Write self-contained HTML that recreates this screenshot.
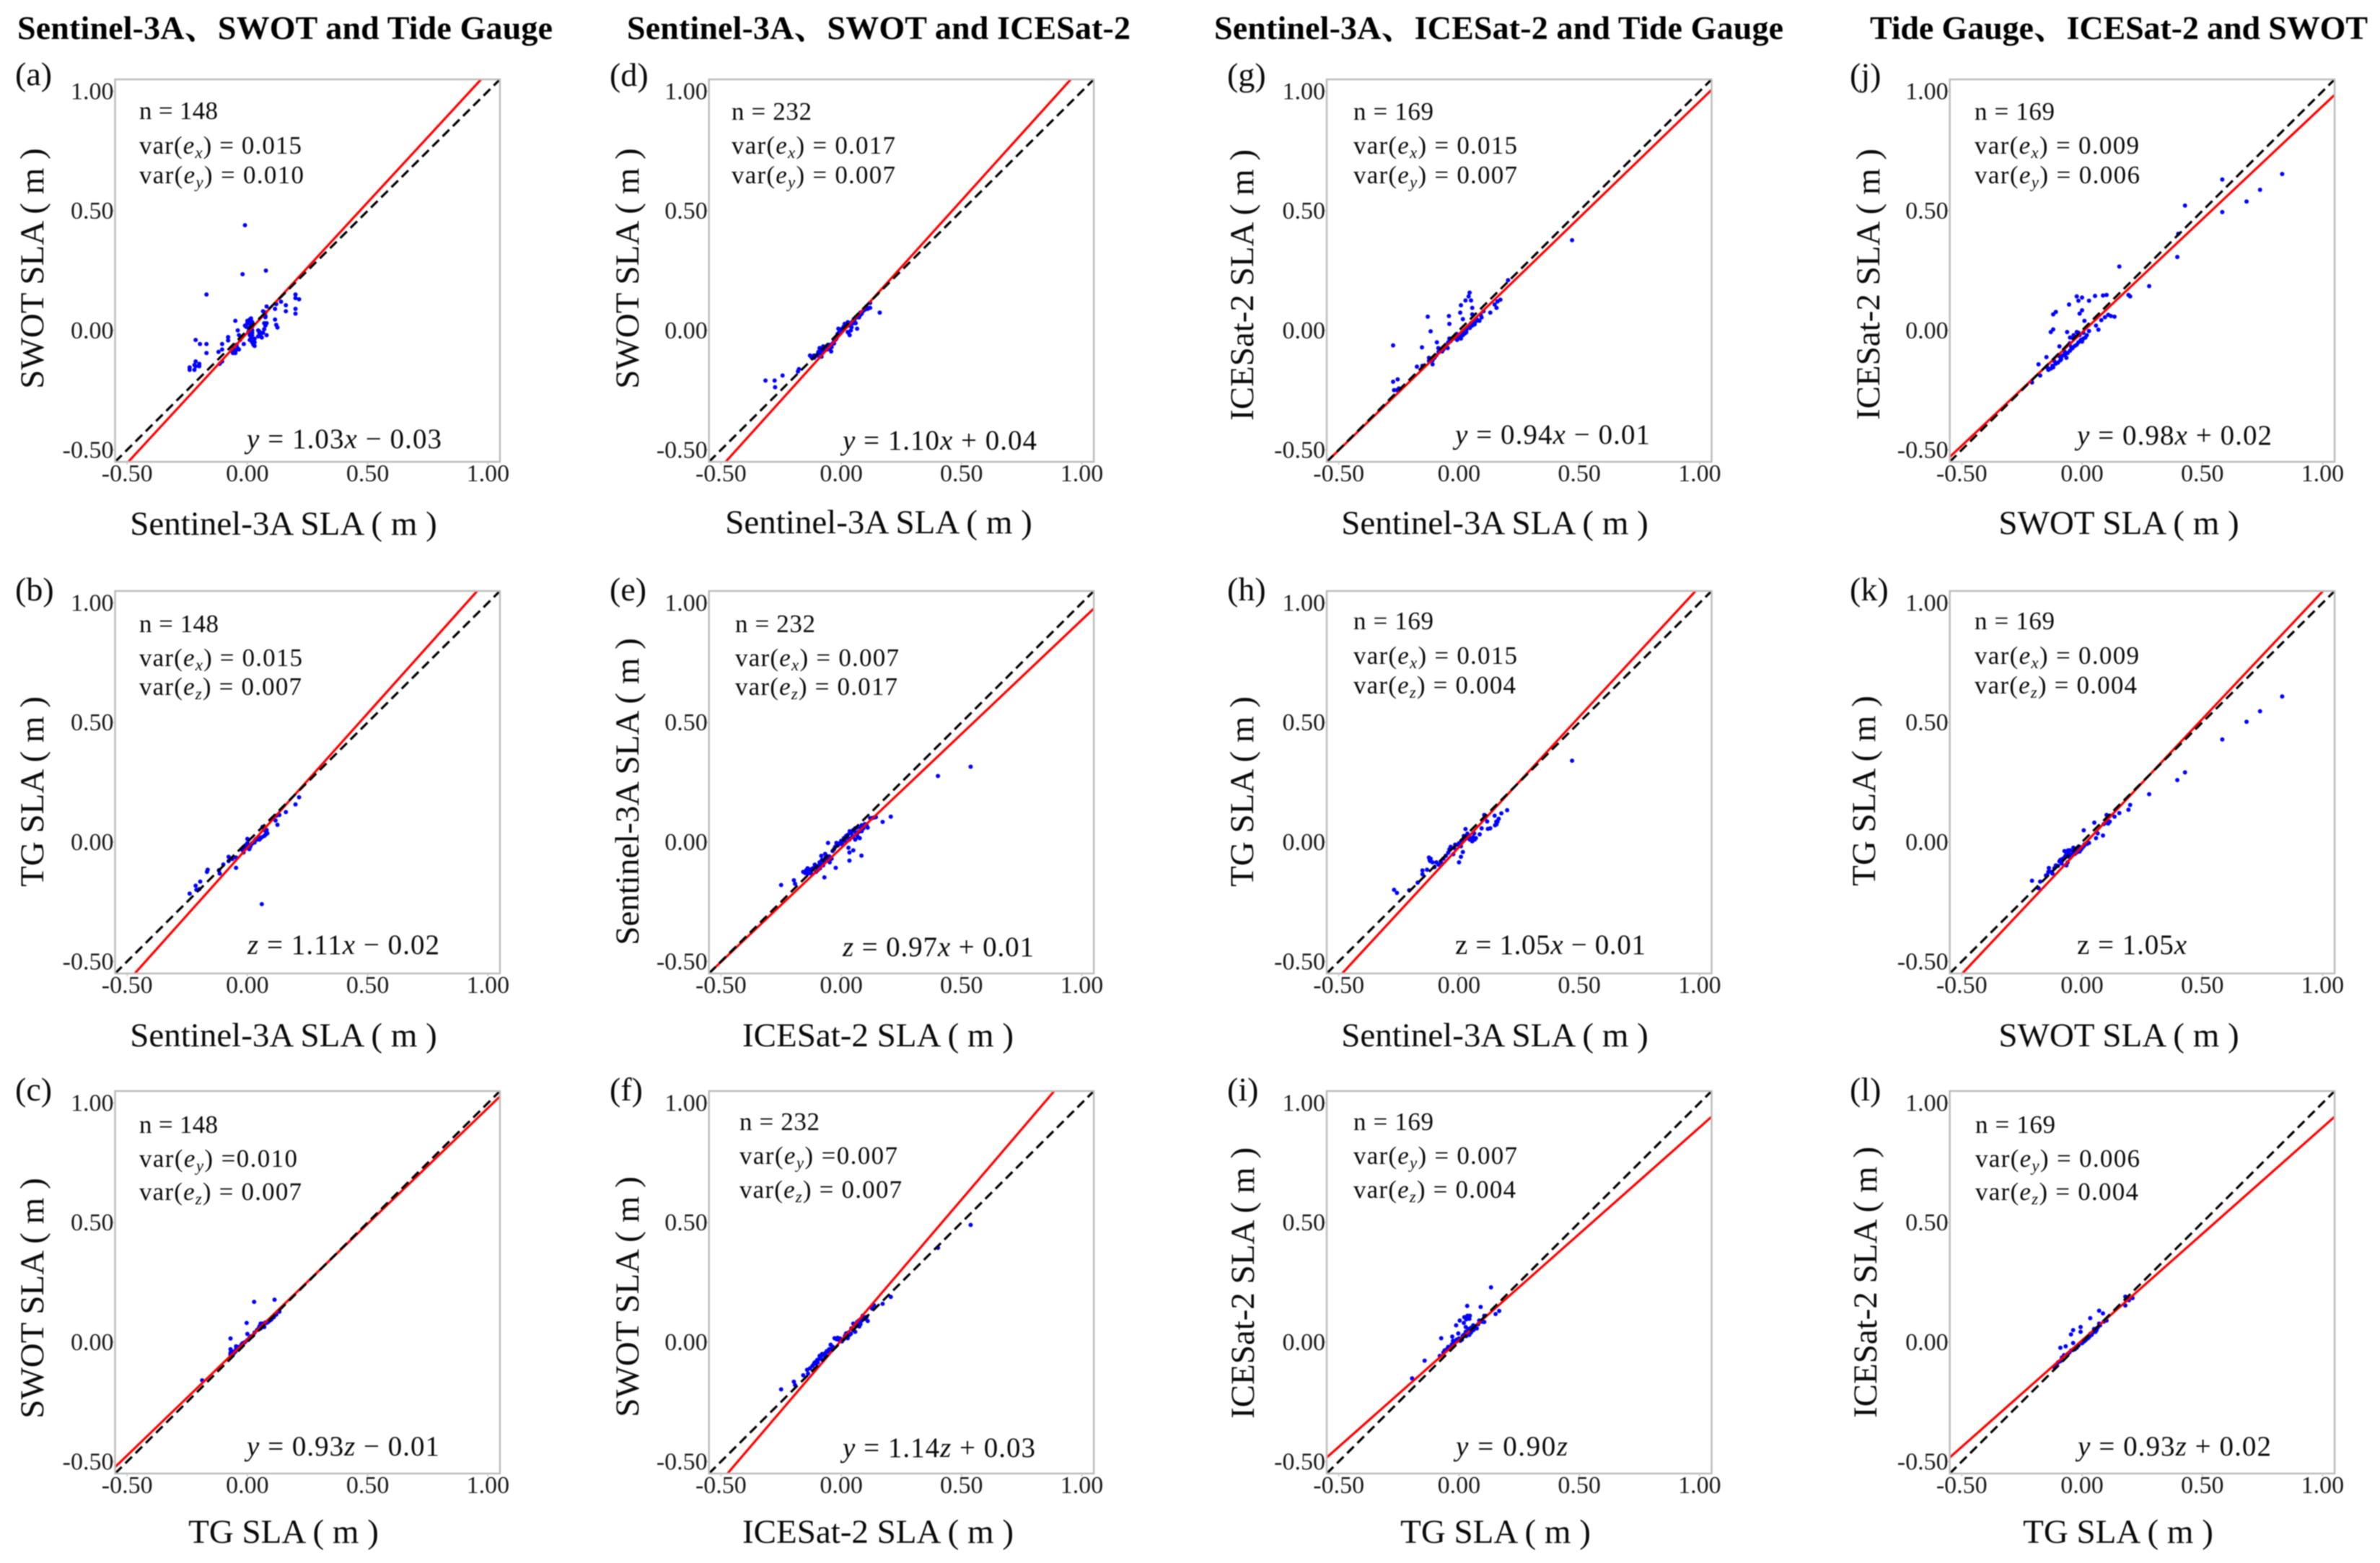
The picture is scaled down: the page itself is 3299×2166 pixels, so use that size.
<!DOCTYPE html>
<html lang="en">
<head>
<meta charset="utf-8">
<title>SLA triple collocation scatter plots</title>
<style>
html,body{margin:0;padding:0;background:#fff;width:3299px;height:2166px;overflow:hidden}
svg{display:block;filter:blur(0.8px)}
text{font-family:"Liberation Serif","Noto Serif CJK SC",serif;fill:#0a0a0a}
.title{font-size:46px;font-weight:bold;fill:#000}
.letter{font-size:46px}
.axis{font-size:47px;text-anchor:middle}
.ann{font-size:35px}
.eq{font-size:39px}
.tick{font-size:34px;fill:#1a1a1a}
tspan.i{font-style:italic}
tspan.s{font-style:italic;font-size:23px}
</style>
</head>
<body>
<svg id="figure" xmlns="http://www.w3.org/2000/svg" width="3299" height="2166" viewBox="0 0 3299 2166">
<rect x="0" y="0" width="3299" height="2166" fill="#fff"/>
<g id="marks"></g>

<g>
<text class="title" x="24" y="54" textLength="742">Sentinel-3A、SWOT and Tide Gauge</text>
<text class="title" x="869" y="54" textLength="698">Sentinel-3A、SWOT and ICESat-2</text>
<text class="title" x="1683" y="54" textLength="789">Sentinel-3A、ICESat-2 and Tide Gauge</text>
<text class="title" x="2592" y="54" textLength="690">Tide Gauge、ICESat-2 and SWOT</text>
</g>

<g>
<text class="letter" x="21" y="118">(a)</text>
<text class="ann" x="193" y="165" textLength="109">n = 148</text>
<text class="ann" x="193" y="213" textLength="225">var(<tspan class="i">e</tspan><tspan class="s" dy="6">x</tspan><tspan dy="-6">) = 0.015</tspan></text>
<text class="ann" x="193" y="254" textLength="228">var(<tspan class="i">e</tspan><tspan class="s" dy="6">y</tspan><tspan dy="-6">) = 0.010</tspan></text>
<text class="eq" x="342" y="621" textLength="270"><tspan class="i">y</tspan> = 1.03<tspan class="i">x</tspan> − 0.03</text>
<text class="axis" x="393" y="741">Sentinel-3A SLA ( m )</text>
<text class="axis" transform="translate(60 372) rotate(-90)">SWOT SLA ( m )</text>
</g>

<g>
<text class="letter" x="21" y="832">(b)</text>
<text class="ann" x="193" y="876" textLength="110">n = 148</text>
<text class="ann" x="193" y="923" textLength="226">var(<tspan class="i">e</tspan><tspan class="s" dy="6">x</tspan><tspan dy="-6">) = 0.015</tspan></text>
<text class="ann" x="193" y="963" textLength="225">var(<tspan class="i">e</tspan><tspan class="s" dy="6">z</tspan><tspan dy="-6">) = 0.007</tspan></text>
<text class="eq" x="343" y="1322" textLength="266"><tspan class="i">z</tspan> = 1.11<tspan class="i">x</tspan> − 0.02</text>
<text class="axis" x="393" y="1450">Sentinel-3A SLA ( m )</text>
<text class="axis" transform="translate(60 1097) rotate(-90)">TG SLA ( m )</text>
</g>

<g>
<text class="letter" x="21" y="1525">(c)</text>
<text class="ann" x="193" y="1570" textLength="109">n = 148</text>
<text class="ann" x="193" y="1617" textLength="219">var(<tspan class="i">e</tspan><tspan class="s" dy="6">y</tspan><tspan dy="-6">) =0.010</tspan></text>
<text class="ann" x="193" y="1663" textLength="225">var(<tspan class="i">e</tspan><tspan class="s" dy="6">z</tspan><tspan dy="-6">) = 0.007</tspan></text>
<text class="eq" x="342" y="2017" textLength="267"><tspan class="i">y</tspan> = 0.93<tspan class="i">z</tspan> − 0.01</text>
<text class="axis" x="393" y="2138">TG SLA ( m )</text>
<text class="axis" transform="translate(60 1799) rotate(-90)">SWOT SLA ( m )</text>
</g>

<g>
<text class="letter" x="845" y="119">(d)</text>
<text class="ann" x="1014" y="166" textLength="111">n = 232</text>
<text class="ann" x="1014" y="213" textLength="227">var(<tspan class="i">e</tspan><tspan class="s" dy="6">x</tspan><tspan dy="-6">) = 0.017</tspan></text>
<text class="ann" x="1014" y="254" textLength="227">var(<tspan class="i">e</tspan><tspan class="s" dy="6">y</tspan><tspan dy="-6">) = 0.007</tspan></text>
<text class="eq" x="1168" y="623" textLength="269"><tspan class="i">y</tspan> = 1.10<tspan class="i">x</tspan> + 0.04</text>
<text class="axis" x="1218" y="739">Sentinel-3A SLA ( m )</text>
<text class="axis" transform="translate(885 372) rotate(-90)">SWOT SLA ( m )</text>
</g>

<g>
<text class="letter" x="845" y="832">(e)</text>
<text class="ann" x="1019" y="876" textLength="111">n = 232</text>
<text class="ann" x="1019" y="923" textLength="227">var(<tspan class="i">e</tspan><tspan class="s" dy="6">x</tspan><tspan dy="-6">) = 0.007</tspan></text>
<text class="ann" x="1019" y="963" textLength="225">var(<tspan class="i">e</tspan><tspan class="s" dy="6">z</tspan><tspan dy="-6">) = 0.017</tspan></text>
<text class="eq" x="1168" y="1325" textLength="265"><tspan class="i">z</tspan> = 0.97<tspan class="i">x</tspan> + 0.01</text>
<text class="axis" x="1217" y="1450">ICESat-2 SLA ( m )</text>
<text class="axis" transform="translate(885 1097) rotate(-90)">Sentinel-3A SLA ( m )</text>
</g>

<g>
<text class="letter" x="845" y="1525">(f)</text>
<text class="ann" x="1025" y="1566" textLength="111">n = 232</text>
<text class="ann" x="1025" y="1613" textLength="219">var(<tspan class="i">e</tspan><tspan class="s" dy="6">y</tspan><tspan dy="-6">) =0.007</tspan></text>
<text class="ann" x="1025" y="1660" textLength="225">var(<tspan class="i">e</tspan><tspan class="s" dy="6">z</tspan><tspan dy="-6">) = 0.007</tspan></text>
<text class="eq" x="1168" y="2019" textLength="267"><tspan class="i">y</tspan> = 1.14<tspan class="i">z</tspan> + 0.03</text>
<text class="axis" x="1217" y="2138">ICESat-2 SLA ( m )</text>
<text class="axis" transform="translate(885 1797) rotate(-90)">SWOT SLA ( m )</text>
</g>

<g>
<text class="letter" x="1701" y="119">(g)</text>
<text class="ann" x="1876" y="166" textLength="111">n = 169</text>
<text class="ann" x="1876" y="213" textLength="227">var(<tspan class="i">e</tspan><tspan class="s" dy="6">x</tspan><tspan dy="-6">) = 0.015</tspan></text>
<text class="ann" x="1876" y="254" textLength="227">var(<tspan class="i">e</tspan><tspan class="s" dy="6">y</tspan><tspan dy="-6">) = 0.007</tspan></text>
<text class="eq" x="2017" y="615" textLength="270"><tspan class="i">y</tspan> = 0.94<tspan class="i">x</tspan> − 0.01</text>
<text class="axis" x="2072" y="740">Sentinel-3A SLA ( m )</text>
<text class="axis" transform="translate(1737 395) rotate(-90)">ICESat-2 SLA ( m )</text>
</g>

<g>
<text class="letter" x="1701" y="832">(h)</text>
<text class="ann" x="1876" y="872" textLength="111">n = 169</text>
<text class="ann" x="1876" y="920" textLength="227">var(<tspan class="i">e</tspan><tspan class="s" dy="6">x</tspan><tspan dy="-6">) = 0.015</tspan></text>
<text class="ann" x="1876" y="961" textLength="225">var(<tspan class="i">e</tspan><tspan class="s" dy="6">z</tspan><tspan dy="-6">) = 0.004</tspan></text>
<text class="eq" x="2017" y="1322" textLength="264">z = 1.05<tspan class="i">x</tspan> − 0.01</text>
<text class="axis" x="2072" y="1450">Sentinel-3A SLA ( m )</text>
<text class="axis" transform="translate(1737 1097) rotate(-90)">TG SLA ( m )</text>
</g>

<g>
<text class="letter" x="1701" y="1525">(i)</text>
<text class="ann" x="1876" y="1566" textLength="111">n = 169</text>
<text class="ann" x="1876" y="1613" textLength="227">var(<tspan class="i">e</tspan><tspan class="s" dy="6">y</tspan><tspan dy="-6">) = 0.007</tspan></text>
<text class="ann" x="1876" y="1660" textLength="225">var(<tspan class="i">e</tspan><tspan class="s" dy="6">z</tspan><tspan dy="-6">) = 0.004</tspan></text>
<text class="eq" x="2018" y="2017" textLength="155"><tspan class="i">y</tspan> = 0.90<tspan class="i">z</tspan></text>
<text class="axis" x="2073" y="2138">TG SLA ( m )</text>
<text class="axis" transform="translate(1738 1778) rotate(-90)">ICESat-2 SLA ( m )</text>
</g>

<g>
<text class="letter" x="2564" y="119">(j)</text>
<text class="ann" x="2737" y="166" textLength="111">n = 169</text>
<text class="ann" x="2737" y="213" textLength="228">var(<tspan class="i">e</tspan><tspan class="s" dy="6">x</tspan><tspan dy="-6">) = 0.009</tspan></text>
<text class="ann" x="2737" y="254" textLength="229">var(<tspan class="i">e</tspan><tspan class="s" dy="6">y</tspan><tspan dy="-6">) = 0.006</tspan></text>
<text class="eq" x="2879" y="616" textLength="270"><tspan class="i">y</tspan> = 0.98<tspan class="i">x</tspan> + 0.02</text>
<text class="axis" x="2937" y="740">SWOT SLA ( m )</text>
<text class="axis" transform="translate(2605 394) rotate(-90)">ICESat-2 SLA ( m )</text>
</g>

<g>
<text class="letter" x="2564" y="832">(k)</text>
<text class="ann" x="2737" y="872" textLength="111">n = 169</text>
<text class="ann" x="2737" y="920" textLength="228">var(<tspan class="i">e</tspan><tspan class="s" dy="6">x</tspan><tspan dy="-6">) = 0.009</tspan></text>
<text class="ann" x="2737" y="961" textLength="225">var(<tspan class="i">e</tspan><tspan class="s" dy="6">z</tspan><tspan dy="-6">) = 0.004</tspan></text>
<text class="eq" x="2879" y="1322" textLength="152">z = 1.05<tspan class="i">x</tspan></text>
<text class="axis" x="2937" y="1450">SWOT SLA ( m )</text>
<text class="axis" transform="translate(2599 1096) rotate(-90)">TG SLA ( m )</text>
</g>

<g>
<text class="letter" x="2564" y="1525">(l)</text>
<text class="ann" x="2738" y="1570" textLength="111">n = 169</text>
<text class="ann" x="2738" y="1617" textLength="228">var(<tspan class="i">e</tspan><tspan class="s" dy="6">y</tspan><tspan dy="-6">) = 0.006</tspan></text>
<text class="ann" x="2738" y="1663" textLength="226">var(<tspan class="i">e</tspan><tspan class="s" dy="6">z</tspan><tspan dy="-6">) = 0.004</tspan></text>
<text class="eq" x="2880" y="2017" textLength="268"><tspan class="i">y</tspan> = 0.93<tspan class="i">z</tspan> + 0.02</text>
<text class="axis" x="2936" y="2138">TG SLA ( m )</text>
<text class="axis" transform="translate(2601 1777) rotate(-90)">ICESat-2 SLA ( m )</text>
</g>
</svg>

<script>
// ---- chart data ----
const tickValues = [-0.5, 0, 0.5, 1];
const tickLabels = ["-0.50", "0.00", "0.50", "1.00"];
const axisMin = -0.55;
const axisMax = 1.05;
const identitySlope = 1;
const identityIntercept = 0;

const panelIds = ["a","b","c","d","e","f","g","h","i","j","k","l"];
const fitSlopes = [1.091,1.124,0.969,1.115,0.954,1.178,0.9725,1.089,0.891,0.947,1.067,0.891];
const fitIntercepts = [-0.01,-0.024,0.01,-0.014,-0.025,0.007,-0.015,-0.021,0.007,-0.009,-0.019,0.007];

const pointsA = [[-0.01,0.44],[-0.02,0.235],[0.077,0.25],[-0.17,0.15],[-0.215,-0.04],[-0.197,-0.057],[-0.17,-0.057],[-0.17,-0.095],[-0.215,-0.13],[-0.22,-0.145],[-0.22,-0.165],[-0.2,-0.14],[-0.2,-0.15],[-0.24,-0.165],[-0.24,-0.155],[-0.215,-0.15],[-0.12,-0.09],[-0.105,-0.057],[-0.08,-0.028],[-0.08,-0.042],[-0.105,-0.08],[-0.115,-0.14],[-0.105,-0.13],[-0.055,-0.08],[-0.05,-0.087],[-0.035,-0.08],[-0.05,0.04],[-0.04,0],[-0.035,-0.02],[-0.015,-0.057],[-0.065,-0.085],[-0.06,-0.07],[-0.03,-0.04],[-0.01,0.02],[0,0.03],[0.005,0.01],[0.01,0.045],[0.015,0.02],[0.015,0.05],[0.02,0.035],[0.005,-0.005],[0.02,0],[0.015,-0.03],[0.02,-0.05],[0.025,-0.06],[0.03,-0.065],[0.01,-0.04],[0.03,-0.035],[0.045,-0.025],[0.055,-0.015],[0.065,-0.01],[0.07,0.005],[0.05,-0.005],[0.08,-0.02],[0.06,-0.03],[0.075,0.02],[0.075,0.055],[0.075,0.075],[0.065,0.08],[0.08,0.1],[0.115,0.045],[0.12,0.023],[0.125,0.012],[0.115,0.09],[0.12,0.11],[0.14,0.12],[0.16,0.105],[0.16,0.08],[0.2,0.09],[0.2,0.07],[0.2,0.15],[0.2,0.135],[0.215,0.13],[-0.055,-0.09],[-0.05,-0.095],[-0.04,-0.075],[-0.06,-0.095],[-0.045,-0.06],[0,0.04],[0.005,0.03],[0.01,0.03],[-0.005,0.015],[0.012,0.012],[0.02,0.015],[0.015,0.04],[0.02,-0.01],[0.02,-0.02],[0.025,-0.045],[0.03,-0.05],[0.01,-0.02],[0.07,0.03],[0.08,0.03],[0.075,0.06],[0.05,-0.01],[0.045,0]];
const pointsB = [[0.06,-0.26],[0.215,0.187],[0.2,0.157],[0.16,0.125],[0.133,0.113],[0.12,0.11],[0.117,0.09],[0.125,0.072],[0.078,0.043],[0.083,0.036],[0.07,0.025],[0.055,0.016],[0.04,0.01],[0.016,-0.01],[0,-0.024],[-0.016,-0.044],[0,0.013],[0.023,-0.004],[0.008,-0.03],[0.07,0.05],[0.063,0.063],[-0.047,-0.065],[-0.047,-0.108],[-0.078,-0.062],[-0.078,-0.08],[-0.063,-0.071],[-0.1,-0.094],[-0.118,-0.118],[-0.115,-0.132],[-0.165,-0.116],[-0.168,-0.125],[-0.196,-0.166],[-0.215,-0.183],[-0.212,-0.2],[-0.2,-0.197],[-0.24,-0.216],[0.03,0.005],[0.045,0.02],[-0.005,-0.012],[0.012,-0.02],[0,-0.005],[0.01,-0.015],[0.02,-0.005],[0.03,-0.002],[0.05,0.01],[0.06,0.02],[0.075,0.03],[0.08,0.05],[-0.01,-0.025],[-0.02,-0.035],[0.035,0.012],[-0.07,-0.07]];
const pointsC = [[0.028,0.168],[0.113,0.177],[-0.003,0.08],[-0.07,0.015],[0,0.034],[-0.188,-0.16],[-0.07,-0.03],[-0.07,-0.045],[-0.07,-0.055],[-0.047,-0.018],[-0.047,-0.03],[-0.055,-0.045],[-0.024,-0.01],[-0.016,-0.004],[0.008,0.016],[0.023,0.027],[0.055,0.077],[0.063,0.077],[0.055,0.057],[0.07,0.063],[0.094,0.09],[0.086,0.084],[0.11,0.104],[0.133,0.127],[0.04,0.05],[0.015,0.024],[0.075,0.082],[-0.035,-0.02],[-0.06,-0.04],[-0.07,-0.05],[-0.065,-0.055],[-0.06,-0.05],[-0.05,-0.04],[-0.04,-0.025],[-0.03,-0.02],[-0.02,-0.005],[-0.01,0],[0,0.008],[0.01,0.018],[0.02,0.025],[0.03,0.04],[0.045,0.055],[0.05,0.065],[0.06,0.07],[0.065,0.065],[0.08,0.08],[0.1,0.095],[0.12,0.115]];
const pointsD = [[-0.315,-0.21],[-0.277,-0.21],[-0.275,-0.238],[-0.244,-0.189],[-0.176,-0.162],[-0.18,-0.172],[0.16,0.074],[-0.13,-0.105],[-0.113,-0.115],[-0.098,-0.1],[-0.082,-0.11],[-0.09,-0.074],[-0.075,-0.067],[-0.058,-0.08],[-0.042,-0.088],[-0.035,-0.054],[-0.02,-0.034],[-0.012,0.007],[0.003,0],[0.014,0.027],[0.027,0.034],[0.035,-0.02],[0.027,-0.007],[0.066,0.007],[0.06,0.03],[0.074,0.054],[0.09,0.08],[0.1,0.088],[0.12,0.115],[0.12,0.094],[0.043,0.013],[0.05,0.04],[-0.067,-0.08],[-0.082,-0.08],[-0.113,-0.105],[-0.122,-0.115],[-0.05,-0.06],[-0.03,-0.04],[0.08,0.065],[0.04,0.03],[-0.125,-0.11],[-0.11,-0.11],[-0.1,-0.105],[-0.095,-0.09],[-0.085,-0.095],[-0.08,-0.085],[-0.07,-0.08],[-0.065,-0.07],[-0.06,-0.07],[-0.05,-0.075],[-0.045,-0.065],[-0.04,-0.07],[-0.03,-0.055],[-0.025,-0.04],[-0.02,-0.025],[-0.015,-0.015],[-0.01,-0.01],[0,0.005],[0.01,0.015],[0.02,0.02],[0.025,0.025],[0.03,0.02],[0.035,0.03],[0.045,0.035],[0.05,0.03],[0.055,0.045],[0.065,0.055],[0.07,0.06],[0.08,0.075],[0.085,0.07],[0.095,0.085],[0.105,0.1],[0.11,0.09],[0.03,-0.01],[0.04,0]];
const pointsE = [[0.538,0.315],[0.402,0.276],[0.206,0.106],[0.172,0.084],[0.144,0.104],[0.128,0.1],[0.084,-0.057],[0.034,-0.078],[0.034,-0.044],[0.05,-0.035],[0.03,-0.024],[-0.023,-0.108],[-0.07,-0.148],[-0.055,-0.004],[-0.25,-0.18],[-0.197,-0.16],[-0.192,-0.175],[-0.158,-0.125],[-0.145,-0.118],[-0.138,-0.132],[-0.122,-0.135],[-0.106,-0.105],[-0.098,-0.118],[-0.09,-0.085],[-0.083,-0.058],[-0.067,-0.05],[-0.06,-0.078],[-0.048,-0.085],[-0.075,-0.098],[-0.036,-0.038],[-0.02,-0.004],[-0.005,-0.004],[0.011,0.016],[0.027,0.03],[0.042,0.036],[0.058,0.057],[0.073,0.043],[0.058,0.01],[0.077,0.016],[0.092,0.057],[0.105,0.07],[0.05,0.023],[0.034,0.01],[-0.13,-0.125],[-0.11,-0.095],[-0.08,-0.075],[-0.06,-0.06],[0.065,0.03],[0.085,0.045],[-0.15,-0.13],[-0.14,-0.11],[-0.128,-0.115],[-0.118,-0.11],[-0.105,-0.125],[-0.095,-0.1],[-0.088,-0.11],[-0.08,-0.095],[-0.07,-0.085],[-0.065,-0.065],[-0.055,-0.07],[-0.05,-0.06],[-0.04,-0.07],[-0.03,-0.03],[-0.025,-0.02],[-0.015,-0.015],[-0.01,-0.01],[0,0.005],[0.005,-0.01],[0.015,0.005],[0.02,0.025],[0.03,0.015],[0.035,0.045],[0.045,0.02],[0.05,0.05],[0.06,0.04],[0.065,0.06],[0.07,0.02],[0.08,0.06],[0.085,0.07],[0.098,0.075],[0.11,0.06],[0.12,0.1],[0.135,0.102]];
const pointsF = [[0.538,0.49],[0.402,0.394],[0.206,0.189],[0.172,0.16],[0.136,0.154],[0.128,0.14],[0.11,0.088],[-0.25,-0.198],[-0.197,-0.166],[-0.192,-0.18],[-0.158,-0.139],[-0.142,-0.116],[-0.138,-0.132],[-0.114,-0.092],[-0.098,-0.085],[-0.09,-0.058],[-0.075,-0.051],[-0.06,-0.038],[-0.044,-0.011],[-0.028,0.016],[-0.012,0.01],[0.003,0.003],[0.027,0.016],[0.02,0.036],[0.042,0.057],[0.058,0.043],[0.05,0.077],[0.073,0.09],[0.089,0.11],[0.097,0.097],[0.066,0.084],[-0.083,-0.071],[-0.067,-0.06],[-0.105,-0.09],[-0.05,-0.03],[0.035,0.03],[0.08,0.075],[-0.13,-0.11],[-0.12,-0.1],[-0.11,-0.085],[-0.1,-0.075],[-0.09,-0.07],[-0.085,-0.06],[-0.08,-0.05],[-0.07,-0.05],[-0.065,-0.045],[-0.055,-0.04],[-0.045,-0.03],[-0.035,-0.02],[-0.02,0.012],[-0.015,0.018],[-0.005,0.015],[0.01,0.012],[0.015,0.025],[0.03,0.04],[0.04,0.035],[0.05,0.05],[0.06,0.07],[0.07,0.075],[0.075,0.065],[0.085,0.09],[0.095,0.1],[0.105,0.105]];
const pointsG = [[0.47,0.377],[0.204,0.21],[-0.274,-0.063],[-0.13,0.057],[-0.118,-0.004],[-0.042,0.06],[-0.04,0.027],[-0.154,-0.071],[-0.092,-0.05],[-0.175,-0.152],[-0.152,-0.148],[-0.274,-0.215],[-0.255,-0.205],[-0.27,-0.25],[-0.258,-0.25],[-0.25,-0.243],[0.044,0.158],[0.04,0.142],[0.027,0.125],[0.05,0.125],[0.008,0.105],[0.055,0.094],[0.005,0.074],[0.016,0.047],[0.055,0.067],[0.172,0.128],[0.16,0.121],[0.148,0.108],[0.156,0.094],[0.13,0.074],[0.102,0.08],[0.094,0.054],[0.07,0.038],[0.055,0.02],[0.024,-0.013],[0.008,-0.034],[-0.008,-0.04],[-0.04,-0.034],[-0.047,-0.074],[-0.07,-0.088],[-0.086,-0.074],[-0.102,-0.115],[-0.125,-0.128],[-0.11,-0.142],[0.04,0.013],[0.016,-0.02],[0.03,0],[0,-0.025],[-0.02,-0.03],[0.065,0.025],[-0.125,-0.115],[-0.11,-0.125],[-0.095,-0.105],[-0.085,-0.09],[-0.075,-0.08],[-0.065,-0.08],[-0.055,-0.07],[-0.045,-0.05],[-0.035,-0.045],[-0.025,-0.035],[-0.015,-0.03],[-0.01,-0.015],[0.005,-0.02],[0.012,-0.01],[0.02,-0.005],[0.03,-0.008],[0.035,0.012],[0.045,0.01],[0.05,0.03],[0.06,0.03],[0.075,0.045],[0.085,0.04],[0.09,0.065]];
const pointsH = [[0.47,0.34],[0.2,0.133],[0.176,0.12],[0.148,0.11],[0.165,0.097],[0.156,0.074],[0.117,0.086],[0.105,0.113],[0.13,0.057],[0.094,0.057],[0.086,0.032],[0.063,0.036],[0.07,0.016],[0.055,0.003],[0.027,0.054],[0.008,-0.018],[0,-0.085],[0.008,-0.062],[0.016,-0.042],[-0.016,-0.011],[-0.04,-0.031],[-0.024,-0.051],[-0.055,-0.058],[-0.125,-0.065],[-0.12,-0.08],[-0.094,-0.085],[-0.102,-0.105],[-0.133,-0.116],[-0.152,-0.119],[-0.152,-0.135],[-0.172,-0.17],[-0.207,-0.202],[-0.27,-0.2],[-0.258,-0.213],[0.04,0.023],[0.024,0.012],[0.045,0.01],[-0.122,-0.075],[0.108,0.1],[0.16,0.085],[-0.118,-0.07],[-0.11,-0.085],[-0.085,-0.095],[-0.075,-0.085],[-0.065,-0.07],[-0.045,-0.045],[-0.035,-0.02],[-0.02,-0.025],[-0.005,-0.012],[0,-0.005],[0.012,0.005],[0.02,0.025],[0.03,0.015],[0.035,0.035],[0.05,0.012],[0.058,0.02],[0.065,0.01],[0.12,0.055],[0.15,0.07],[0.155,0.085]];
const pointsI = [[0.133,0.229],[0.034,0.151],[0.09,0.147],[0.022,0.104],[0.003,0.09],[0.043,0.097],[-0.012,0.07],[0.028,0.063],[-0.074,0.016],[-0.028,0.023],[-0.003,0.036],[-0.143,-0.078],[-0.195,-0.152],[0.167,0.13],[0.152,0.117],[0.105,0.11],[0.105,0.084],[0.074,0.057],[0.043,0.03],[0.012,0.01],[-0.018,-0.004],[-0.04,-0.024],[-0.065,-0.044],[-0.08,-0.058],[0.059,0.07],[0.028,0.043],[0.084,0.09],[0.035,0.11],[0.02,0.08],[0.05,0.04],[-0.05,-0.03],[-0.06,-0.035],[-0.045,-0.02],[-0.03,-0.01],[-0.025,0.005],[-0.01,0.01],[0,0.015],[0.005,0.005],[0.015,0.025],[0.02,0.03],[0.03,0.025],[0.035,0.045],[0.04,0.055],[0.045,0.05],[0.05,0.06],[0.06,0.05],[0.065,0.065],[0.08,0.075],[0.095,0.085],[0.03,0.095],[0.045,0.11]];
const pointsJ = [[0.832,0.654],[0.74,0.588],[0.684,0.539],[0.583,0.631],[0.583,0.495],[0.428,0.522],[0.396,0.307],[0.4,0.404],[0.279,0.185],[0.155,0.267],[0.193,0.148],[0.2,0.142],[0.102,0.148],[0.087,0.146],[0.054,0.144],[0.029,0.124],[0,0.137],[-0.022,0.142],[-0.015,0.124],[-0.054,0.108],[0,0.084],[-0.01,0.07],[0.01,0.04],[-0.109,0.077],[-0.12,0.067],[-0.12,0.004],[-0.13,-0.007],[0.135,0.057],[0.109,0.065],[0.08,0.043],[0.058,0.02],[0.068,0.003],[0.029,-0.003],[0.014,-0.03],[0,-0.047],[-0.022,-0.007],[-0.062,-0.007],[-0.036,-0.034],[-0.051,-0.054],[-0.094,-0.067],[-0.073,-0.088],[-0.094,-0.108],[-0.116,-0.128],[-0.145,-0.155],[-0.148,-0.112],[-0.181,-0.142],[-0.174,-0.189],[-0.208,-0.218],[-0.022,-0.06],[-0.065,-0.115],[-0.123,-0.148],[-0.087,-0.12],[-0.04,-0.075],[-0.01,-0.02],[-0.13,-0.16],[0.005,-0.01],[-0.14,-0.165],[-0.12,-0.155],[-0.11,-0.14],[-0.1,-0.135],[-0.09,-0.125],[-0.08,-0.105],[-0.07,-0.1],[-0.06,-0.095],[-0.05,-0.085],[-0.045,-0.07],[-0.03,-0.065],[-0.015,-0.05],[-0.005,-0.04],[0.005,-0.035],[0.02,-0.02],[-0.035,-0.02],[-0.05,-0.03],[-0.015,-0.01],[0.095,0.055],[0.12,0.06]];
const pointsK = [[0.832,0.609],[0.74,0.547],[0.684,0.503],[0.583,0.429],[0.428,0.291],[0.396,0.259],[0.279,0.2],[0.2,0.155],[0.193,0.135],[0.155,0.121],[0.135,0.106],[0.109,0.077],[0.102,0.113],[0.116,0.11],[0.051,0.081],[0.007,0.049],[0.087,0.027],[0.058,0.016],[0.065,0.036],[0.029,-0.004],[0.007,-0.018],[-0.022,-0.044],[-0.004,-0.031],[-0.036,-0.024],[-0.073,-0.038],[-0.058,-0.035],[-0.051,-0.065],[-0.065,-0.098],[-0.094,-0.081],[-0.109,-0.098],[-0.138,-0.109],[-0.145,-0.139],[-0.123,-0.132],[-0.174,-0.166],[-0.208,-0.162],[-0.181,-0.193],[-0.01,-0.04],[-0.04,-0.05],[-0.085,-0.09],[-0.14,-0.125],[-0.06,-0.085],[-0.15,-0.14],[-0.13,-0.125],[-0.115,-0.11],[-0.1,-0.1],[-0.09,-0.075],[-0.08,-0.07],[-0.07,-0.06],[-0.065,-0.05],[-0.055,-0.05],[-0.05,-0.035],[-0.045,-0.06],[-0.035,-0.04],[-0.03,-0.05],[-0.02,-0.03],[-0.01,-0.02],[0,-0.025],[0.01,-0.01],[0.02,-0.008],[0.09,0.075],[0.1,0.08],[0.115,0.085]];
const pointsL = [[0.18,0.19],[0.21,0.184],[0.18,0.153],[0.071,0.131],[0.087,0.12],[0.034,0.1],[0.102,0.09],[-0.006,0.063],[-0.037,0.05],[-0.006,0.043],[-0.046,0.032],[-0.09,-0.024],[-0.068,-0.018],[-0.037,-0.004],[0.025,0.016],[0.056,0.043],[0.071,0.077],[0.009,0.003],[-0.022,-0.024],[-0.053,-0.044],[-0.084,-0.065],[-0.115,-0.105],[0.04,0.03],[0.05,0.055],[-0.1,-0.085],[-0.075,-0.055],[-0.06,-0.05],[-0.045,-0.035],[-0.03,-0.03],[-0.015,-0.015],[0,-0.005],[0.015,0.008],[0.03,0.022],[0.035,0.035],[0.045,0.04],[0.06,0.05],[0.065,0.06],[0.075,0.07],[0.09,0.085],[-0.105,-0.1],[-0.09,-0.08],[0.195,0.175],[0.19,0.185]];
const panelPoints = [pointsA,pointsB,pointsC,pointsD,pointsE,pointsF,pointsG,pointsH,pointsI,pointsJ,pointsK,pointsL];

// ---- layout (not data) ----
const columnLefts = [159.5, 982.7, 1839, 2702.6];
const rowTops = [110, 819, 1512];
const plotWidth = 533.5;
const plotHeight = 530;

const SVG_NS = "http://www.w3.org/2000/svg";
const marksRoot = document.getElementById("marks");

function make(tag, attrs, parent) {
  const el = document.createElementNS(SVG_NS, tag);
  for (const k in attrs) el.setAttribute(k, attrs[k]);
  parent.appendChild(el);
  return el;
}

panelIds.forEach(function (id, index) {
  const left = columnLefts[Math.floor(index / 3)];
  const top = rowTops[index % 3];
  const xScale = function (v) { return left + (v - axisMin) / (axisMax - axisMin) * plotWidth; };
  const yScale = function (v) { return top + plotHeight - (v - axisMin) / (axisMax - axisMin) * plotHeight; };

  const group = make("g", {}, marksRoot);
  
  

  // scatter points
  panelPoints[index].forEach(function (p) {
    const dot = make("circle", { cx: xScale(p[0]), cy: yScale(p[1]), r: 3, fill: "#0000ff" }, group);
    
    
  });

  // line clipped to the axes
  function lineEnds(m, b) {
    const x0 = Math.max(axisMin, (axisMin - b) / m);
    const x1 = Math.min(axisMax, (axisMax - b) / m);
    return { x1: xScale(x0), y1: yScale(m * x0 + b), x2: xScale(x1), y2: yScale(m * x1 + b) };
  }

  const fit = make("line", Object.assign(lineEnds(fitSlopes[index], fitIntercepts[index]), { stroke: "#ff0000", "stroke-width": 3.2 }), group);
  
  

  const identity = make("line", Object.assign(lineEnds(identitySlope, identityIntercept), { stroke: "#000", "stroke-width": 3.2, "stroke-dasharray": "13 7" }), group);
  
  

  // frame
  const frame = make("rect", { x: left, y: top, width: plotWidth, height: plotHeight, fill: "none", stroke: "#bdbdbd", "stroke-width": 2.5 }, group);
  
  

  // ticks and tick labels
  tickValues.forEach(function (v, t) {
    const xt = make("line", { x1: xScale(v), x2: xScale(v), y1: top + plotHeight, y2: top + plotHeight + 4, stroke: "#c4c4c4", "stroke-width": 1.5 }, group);
    
    

    const yt = make("line", { x1: left - 4, x2: left, y1: yScale(v), y2: yScale(v), stroke: "#c4c4c4", "stroke-width": 1.5 }, group);
    
    

    const xl = make("text", { class: "tick", x: xScale(v), y: top + plotHeight + 27, "text-anchor": "middle" }, group);
    xl.textContent = tickLabels[t];
    
    

    const yl = make("text", { class: "tick", x: left - 2, y: yScale(v) + 11, "text-anchor": "end" }, group);
    yl.textContent = tickLabels[t];
    
    
  });
});
</script>
</body>
</html>
